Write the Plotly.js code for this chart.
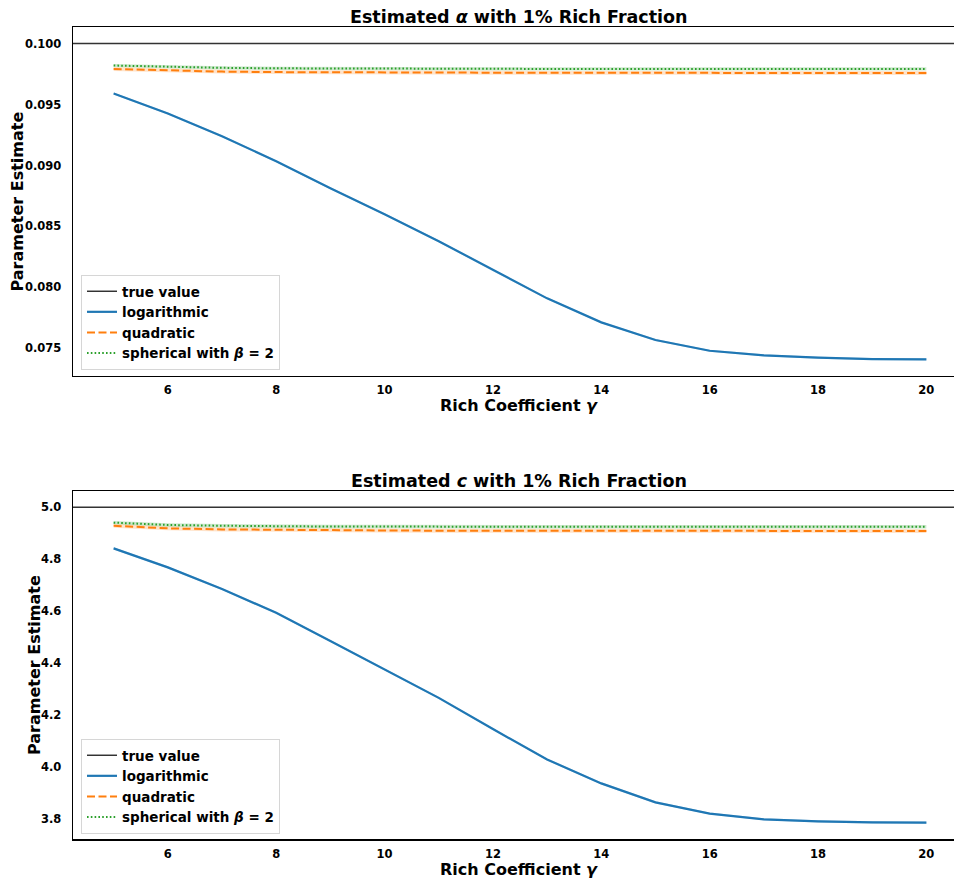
<!DOCTYPE html>
<html>
<head>
<meta charset="utf-8">
<script src="https://cdn.plot.ly/plotly-3.0.1.min.js"></script>
<style>html,body{margin:0;padding:0;background:#fff;}#chart{width:954px;height:879px;}</style>
</head>
<body>
<div id="chart"></div>
<script>
// ---- data ----
const gamma = [5,6,7,8,9,10,11,12,13,14,15,16,17,18,19,20];

const alphaTrue = 0.1;
const alphaLog  = [0.09590,0.09426,0.09240,0.09035,0.08813,0.08600,0.08379,0.08141,0.07910,0.07713,0.07568,0.07480,0.07443,0.07423,0.07412,0.07410];
const alphaQuad = [0.09792,0.09778,0.09770,0.09766,0.09764,0.09762,0.09761,0.09760,0.09760,0.09760,0.09759,0.09759,0.09759,0.09759,0.09759,0.09759];
const alphaSph  = [0.09820,0.09808,0.09801,0.09797,0.09795,0.09794,0.09793,0.09793,0.09792,0.09792,0.09792,0.09792,0.09792,0.09792,0.09792,0.09792];
const alphaBand = {log:0.00008, quad:0.00016, sph:0.00013};

const cTrue = 5.0;
const cLog  = [4.842,4.769,4.686,4.594,4.486,4.378,4.267,4.147,4.030,3.938,3.865,3.822,3.800,3.792,3.788,3.787];
const cQuad = [4.929,4.919,4.915,4.913,4.912,4.911,4.910,4.910,4.910,4.910,4.909,4.909,4.909,4.909,4.909,4.909];
const cSph  = [4.941,4.932,4.929,4.927,4.926,4.926,4.925,4.925,4.925,4.925,4.925,4.925,4.925,4.925,4.925,4.925];
const cBand = {log:0.004, quad:0.0077, sph:0.0065};

const xRange = [4.25, 20.51];
const alphaRange = [0.07273, 0.10136];
const cRange = [3.723, 5.0627];
const xTicks = [6,8,10,12,14,16,18,20];
const alphaTicks = [0.075,0.080,0.085,0.090,0.095,0.100];
const cTicks = [3.8,4.0,4.2,4.4,4.6,4.8,5.0];

const names = {tv:'true value', log:'logarithmic', quad:'quadratic', sph:'spherical with <i>β</i> = 2'};
const colors = {log:'#1f77b4', quad:'#ff7f0e', sph:'#2ca02c'};
const fills = {log:'rgba(31,119,180,0.25)', quad:'rgba(255,127,14,0.22)', sph:'rgba(44,160,44,0.24)'};

// ---- build ----
const FONT = 'DejaVu Sans, sans-serif';
function band(vals, w, key, xa, ya){
  const lo = vals.map(v=>v-w), hi = vals.map(v=>v+w);
  return [
    {x:gamma, y:lo, xaxis:xa, yaxis:ya, mode:'lines', line:{width:0,color:fills[key]}, showlegend:false, hoverinfo:'skip'},
    {x:gamma, y:hi, xaxis:xa, yaxis:ya, mode:'lines', line:{width:0,color:fills[key]}, fill:'tonexty', fillcolor:fills[key], showlegend:false, hoverinfo:'skip'}
  ];
}
function panel(tv, lg, qd, sp, bw, xa, ya, leg){
  let t = [];
  t = t.concat(band(lg,bw.log,'log',xa,ya), band(qd,bw.quad,'quad',xa,ya), band(sp,bw.sph,'sph',xa,ya));
  t.push({x:xRange, y:[tv,tv], xaxis:xa, yaxis:ya, mode:'lines', name:names.tv, legend:leg, legendrank:1, line:{color:'#333333', width:1.5}});
  t.push({x:gamma, y:lg, xaxis:xa, yaxis:ya, mode:'lines', name:names.log, legend:leg, legendrank:2, line:{color:colors.log, width:2.2}});
  t.push({x:gamma, y:qd, xaxis:xa, yaxis:ya, mode:'lines', name:names.quad, legend:leg, legendrank:3, line:{color:colors.quad, width:2, dash:'8px,3.5px'}});
  t.push({x:gamma, y:sp, xaxis:xa, yaxis:ya, mode:'lines', name:names.sph, legend:leg, legendrank:4, line:{color:colors.sph, width:2, dash:'1.6px,2.2px'}});
  return t;
}
const data = panel(alphaTrue, alphaLog, alphaQuad, alphaSph, alphaBand, 'x','y','legend')
  .concat(panel(cTrue, cLog, cQuad, cSph, cBand, 'x2','y2','legend2'));

const H = 879, PW = 881, L = 73;
const tickFont = {family:FONT, size:11.5, color:'#000', weight:'bold'};
function xax(anchor){
  return {anchor:anchor, domain:[0,1], range:xRange, tickvals:xTicks, ticktext:xTicks.map(String),
    showgrid:false, zeroline:false, showline:true, mirror:true, linecolor:'#000', linewidth:1.4,
    ticks:'', ticklabelstandoff:3, tickfont:tickFont};
}
function yax(anchor, dom, rng, tv, fmt){
  return {anchor:anchor, domain:dom, range:rng, tickvals:tv, ticktext:tv.map(v=>v.toFixed(fmt)),
    showgrid:false, zeroline:false, showline:true, mirror:false, linecolor:'#000', linewidth:1.4,
    ticks:'', ticklabelstandoff:8, tickfont:tickFont};
}
const legBase = {bgcolor:'rgba(255,255,255,0.85)', bordercolor:'#d6d6d6', borderwidth:1, traceorder:'normal',
  font:{family:FONT, size:13.5, color:'#000', weight:'bold'}, itemwidth:30, xanchor:'left', yanchor:'bottom', tracegroupgap:0};

function ann(text, px, py, size, angle){
  return {text:text, xref:'paper', yref:'paper', x:(px-L)/PW, y:1-py/H, xanchor:'center', yanchor:'middle',
    showarrow:false, textangle:angle||0, font:{family:FONT, size:size, color:'#000', weight:'bold'}};
}

const layout = {
  width:954, height:879, paper_bgcolor:'#fff', plot_bgcolor:'#fff',
  margin:{l:L, r:0, t:0, b:0}, showlegend:true,
  xaxis: xax('y'),
  yaxis: yax('x', [1-376/H, 1-27/H], alphaRange, alphaTicks, 3),
  xaxis2: xax('y2'),
  yaxis2: yax('x2', [1-839.3/H, 1-491/H], cRange, cTicks, 1),
  legend: Object.assign({}, legBase, {x:(81-L)/PW, y:1-370/H}),
  legend2: Object.assign({}, legBase, {x:(81-L)/PW, y:1-834/H}),
  annotations:[
    ann('Estimated <i>α</i> with 1% Rich Fraction', 519, 17, 17.5),
    ann('Estimated <i>c</i> with 1% Rich Fraction', 519, 481, 17.5),
    ann('Rich Coefficient <i>γ</i>', 519, 405, 16),
    ann('Rich Coefficient <i>γ</i>', 519, 869, 16),
    ann('Parameter Estimate', 17, 201.5, 16, -90),
    ann('Parameter Estimate', 34, 665, 16, -90)
  ]
};
Plotly.newPlot('chart', data, layout, {displayModeBar:false, staticPlot:true});
</script>
</body>
</html>
